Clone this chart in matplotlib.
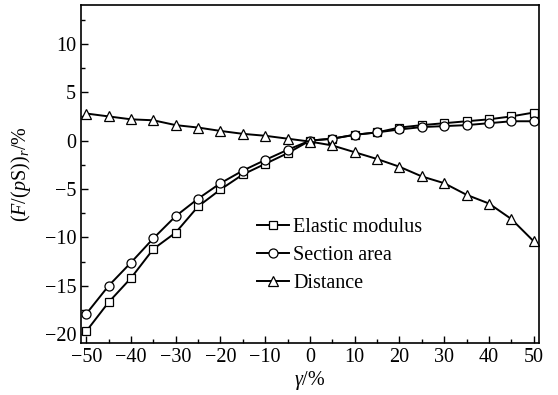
import matplotlib as mpl
import matplotlib.pyplot as plt
import numpy as np

# strain gamma in %
gamma = [-50, -45, -40, -35, -30, -25, -20, -15, -10, -5, 0,
         5, 10, 15, 20, 25, 30, 35, 40, 45, 50]

# relative force change (%) for each parameter
elastic = [-19.7, -16.7, -14.2, -11.2, -9.5, -6.8, -5.05, -3.5, -2.4, -1.3, 0.0,
           0.2, 0.6, 0.85, 1.35, 1.6, 1.8, 2.0, 2.2, 2.5, 2.9]
section = [-17.9, -15.0, -12.6, -10.1, -7.8, -6.0, -4.4, -3.1, -2.0, -0.95, 0.0,
           0.2, 0.6, 0.85, 1.15, 1.4, 1.5, 1.6, 1.8, 2.0, 2.0]
distance = [2.8, 2.5, 2.2, 2.1, 1.6, 1.35, 1.0, 0.7, 0.5, 0.2, -0.1,
            -0.5, -1.2, -1.9, -2.7, -3.7, -4.4, -5.6, -6.5, -8.1, -10.4]

labels = ["Elastic modulus", "Section area", "Distance"]

plt.rcParams["font.family"] = "Liberation Serif"
plt.rcParams["mathtext.fontset"] = "custom"
plt.rcParams["mathtext.rm"] = "Liberation Serif"
plt.rcParams["mathtext.it"] = "Liberation Serif:italic"
plt.rcParams["font.size"] = 14.5

fig = plt.figure(figsize=(5.58, 3.95), dpi=100)
ax = fig.add_axes([0.145, 0.132, 0.821, 0.855])

mk = dict(color="black", lw=1.4, mfc="white", mec="black", mew=0.9)
ax.plot(gamma, elastic, marker="s", ms=6, label=labels[0], **mk)
ax.plot(gamma, section, marker="o", ms=6.5, label=labels[1], **mk)
ax.plot(gamma, distance, marker="^", ms=7.5, label=labels[2], **mk)

ax.set_xlim(-51.2, 51.2)
ax.set_ylim(-20.9, 14)
ax.set_xticks(np.arange(-50, 51, 10))
ax.set_xticks(np.arange(-45, 50, 10), minor=True)
ax.set_yticks(np.arange(-20, 11, 5))
ax.set_yticks(np.arange(-17.5, 14, 5), minor=True)
ax.tick_params(which="both", direction="in", top=False, right=False)
ax.tick_params(which="major", length=5, width=1)
ax.tick_params(which="minor", length=3, width=1)
for s in ax.spines.values():
    s.set_linewidth(1.2)

ax.set_xlabel(r"$\gamma/\%$", labelpad=2)
ax.set_ylabel(r"$(F/(p\mathrm{S}))_r/\%$", labelpad=8)

ax.legend(loc="upper left", bbox_to_anchor=(0.345, 0.425), frameon=False,
          handlelength=1.6, handletextpad=0.2, labelspacing=0.45, fontsize=14.5)

fig.savefig("out.png", dpi=100)
